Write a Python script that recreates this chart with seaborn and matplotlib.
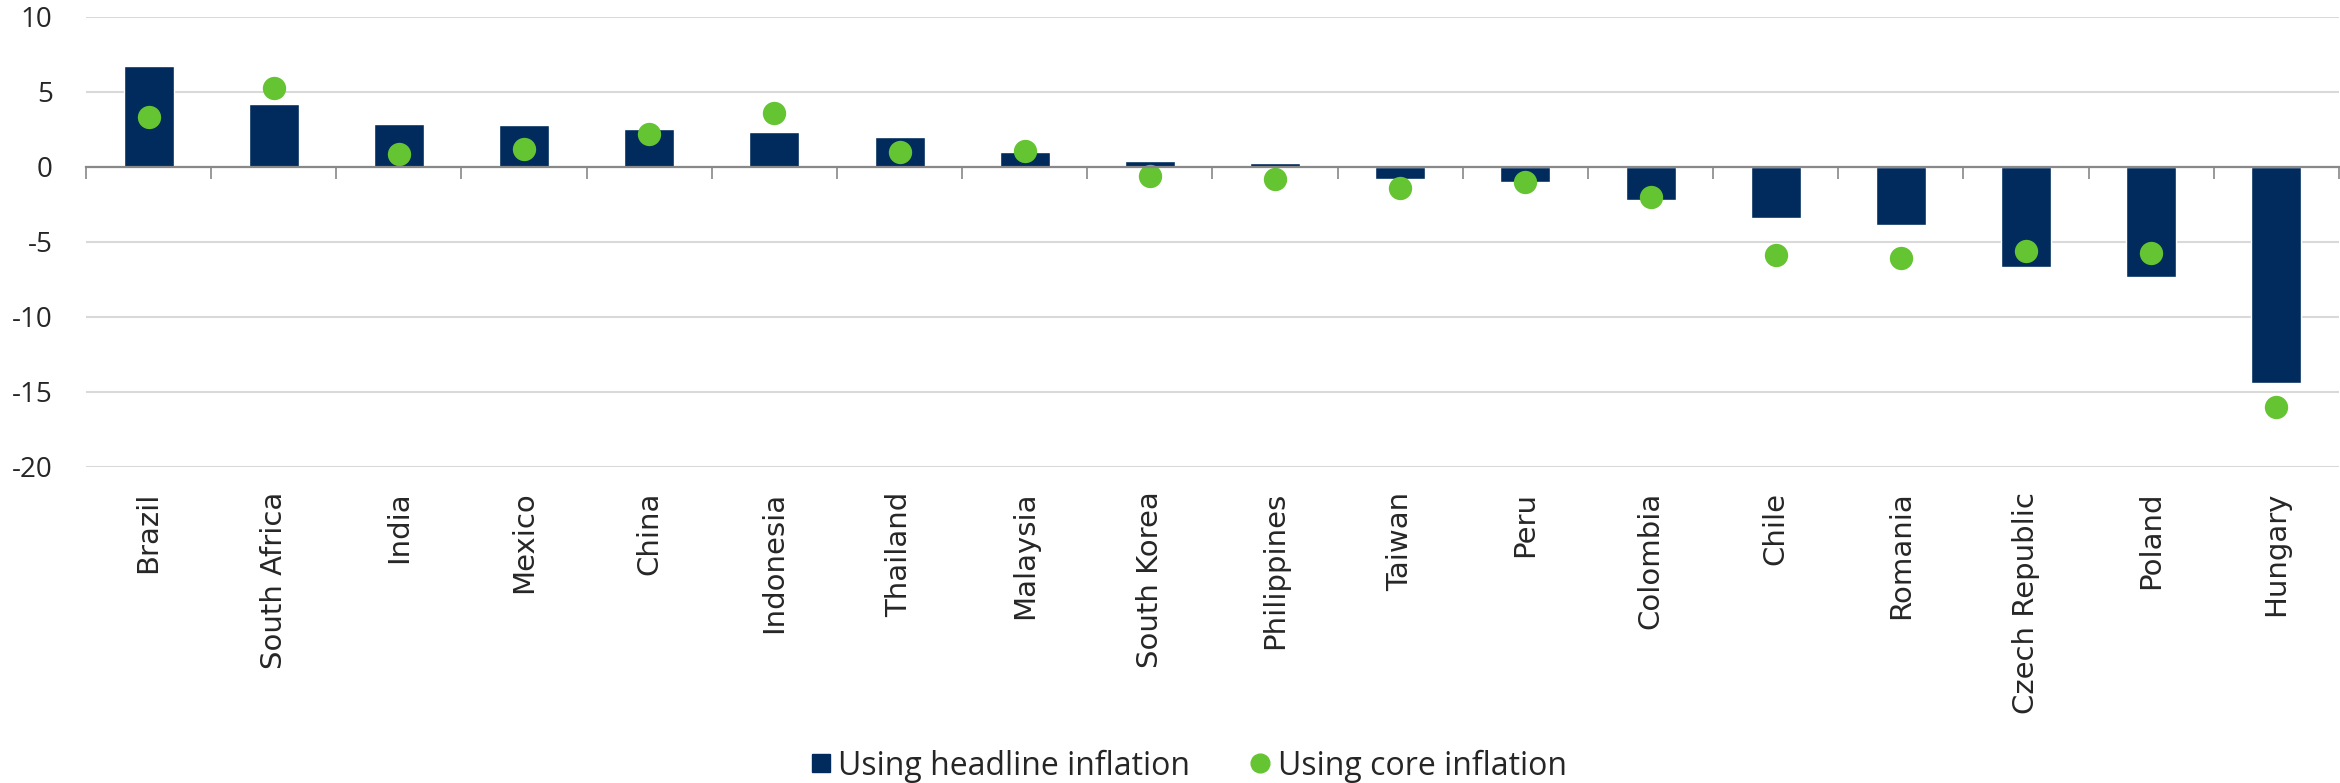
import numpy as np
import pandas as pd
import matplotlib
matplotlib.use("Agg")
import matplotlib.pyplot as plt
from matplotlib.lines import Line2D
import seaborn as sns

# Real-rate gap by country, two measures of inflation
countries = ["Brazil", "South Africa", "India", "Mexico", "China", "Indonesia",
             "Thailand", "Malaysia", "South Korea", "Philippines", "Taiwan", "Peru",
             "Colombia", "Chile", "Romania", "Czech Republic", "Poland", "Hungary"]
headline = [6.7, 4.2, 2.85, 2.8, 2.5, 2.3,
            2.0, 1.0, 0.35, 0.25, -0.8, -1.0,
            -2.2, -3.45, -3.9, -6.7, -7.35, -14.4]
core = [3.3, 5.25, 0.85, 1.2, 2.15, 3.55,
        0.95, 1.05, -0.65, -0.8, -1.45, -1.0,
        -2.0, -5.9, -6.1, -5.6, -5.75, -16.05]
yticks = [10, 5, 0, -5, -10, -15, -20]

NAVY = "#002b5c"
GREEN = "#64c432"
GRID = "#d9d9d9"
AXIS = "#888888"

sns.set_theme(style="white")
plt.rcParams["font.family"] = ["Open Sans", "DejaVu Sans"]
plt.rcParams["axes.unicode_minus"] = False

df = pd.DataFrame({"country": countries, "headline": headline, "core": core})

W, H = 2340, 783
fig = plt.figure(figsize=(W / 100, H / 100), dpi=100)
left, right, top, bottom = 86, 2339, 16.7, 466.7
ax = fig.add_axes([left / W, 1 - bottom / H, (right - left) / W, (bottom - top) / H])

sns.barplot(data=df, x="country", y="headline", color=NAVY, width=0.4,
            saturation=1, ax=ax, zorder=3)
sns.stripplot(data=df, x="country", y="core", color=GREEN, size=16.8,
              jitter=False, linewidth=0, ax=ax, zorder=4)

n = len(countries)
ax.set_xlim(-0.5, n - 0.5)
ax.set_ylim(min(yticks), max(yticks))
ax.set_yticks(yticks)
ax.set_yticklabels([str(v) for v in yticks])
ax.set_xlabel("")
ax.set_ylabel("")
for s in ax.spines.values():
    s.set_visible(False)

# horizontal gridlines (except zero, which carries the category axis)
for v in yticks:
    if v != 0:
        ax.axhline(v, color=GRID, lw=1.5, zorder=1)

ax.tick_params(axis="y", length=0, pad=24, labelsize=20)
ax.tick_params(axis="x", length=0, pad=18)
for lab in ax.get_xticklabels():
    lab.set_rotation(90)
    lab.set_fontsize(21)
    lab.set_family("DejaVu Sans")
    lab.set_va("top")
    lab.set_ha("center")

# category axis drawn at zero with tick marks between categories
ax2 = ax.twiny()
ax2.set_xlim(ax.get_xlim())
for s in ax2.spines.values():
    s.set_visible(False)
ax2.spines["bottom"].set_visible(True)
ax2.spines["bottom"].set_position(("data", 0))
ax2.spines["bottom"].set_color(AXIS)
ax2.spines["bottom"].set_linewidth(1.6)
ax2.spines["bottom"].set_zorder(5)
ax2.xaxis.set_ticks_position("bottom")
ax2.set_xticks(np.arange(n + 1) - 0.5)
ax2.set_xticklabels([])
ax2.tick_params(axis="x", direction="out", length=8.5, width=1.2, color=AXIS)
ax2.set_zorder(ax.get_zorder() + 1)
ax2.patch.set_visible(False)

handles = [
    Line2D([], [], marker="s", linestyle="none", markersize=13.5,
           markerfacecolor=NAVY, markeredgecolor=NAVY),
    Line2D([], [], marker="o", linestyle="none", markersize=13.5,
           markerfacecolor=GREEN, markeredgecolor=GREEN),
]
fig.legend(handles, ["Using headline inflation", "Using core inflation"],
           loc="center", bbox_to_anchor=(1189 / W, 1 - 766 / H), ncol=2,
           frameon=False, fontsize=23, handlelength=0.6, handletextpad=0.25,
           columnspacing=1.9, borderpad=0)

fig.savefig("out.png", dpi=100)
